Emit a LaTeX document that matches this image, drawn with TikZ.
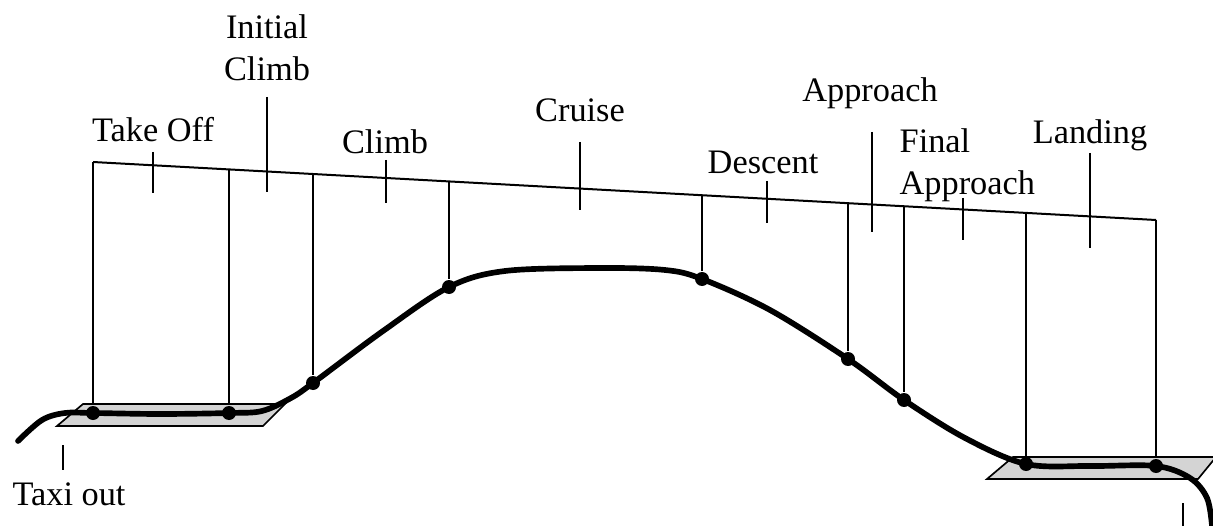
\documentclass[tikz,border=0pt]{standalone}
\usepackage{fontspec}
\setmainfont{Liberation Serif}
\usetikzlibrary{positioning}

\begin{document}
\begin{tikzpicture}[
    x=0.3pt, y=-0.3pt,
    phase/.style={
      font=\fontsize{10.3}{12.6}\selectfont,
      inner sep=0pt,
      align=center
    },
    guide/.style={line width=0.6pt},
    runway/.style={draw, line width=0.5pt, fill=black!17},
    flight/.style={line width=1.7pt, line cap=round},
    stop/.style={circle, fill, inner sep=0pt, minimum size=4.2pt}
  ]
    \useasboundingbox (0,0) rectangle (1213,526);

    % runways
    \draw[runway] (57,426) -- (83,404) -- (285,404) -- (263,426) -- cycle;
    \draw[runway] (987,479) -- (1013,457) -- (1216,457) -- (1198,479) -- cycle;

    % phase points on the trajectory
    \node[stop] (p1) at (93,413) {};
    \node[stop] (p2) at (229,413) {};
    \node[stop] (p3) at (313,383) {};
    \node[stop] (p4) at (449,287) {};
    \node[stop] (p5) at (702,279) {};
    \node[stop] (p6) at (848,359) {};
    \node[stop] (p7) at (904,400) {};
    \node[stop] (p8) at (1026,464) {};
    \node[stop] (p9) at (1156,466) {};

    % matching points on the time line
    \coordinate (t1) at (93,162);
    \coordinate (t2) at (229,169);
    \coordinate (t3) at (313,174);
    \coordinate (t4) at (449,181);
    \coordinate (t5) at (702,195);
    \coordinate (t6) at (848,203);
    \coordinate (t7) at (904,206);
    \coordinate (t8) at (1026,213);
    \coordinate (t9) at (1156,220);

    \draw[guide] (t1) -- (t9);
    \draw[guide] (t1) -- (p1);
    \draw[guide] (t2) -- (p2);
    \draw[guide] (t3) -- (p3);
    \draw[guide] (t4) -- (p4);
    \draw[guide] (t5) -- (p5);
    \draw[guide] (t6) -- (p6);
    \draw[guide] (t7) -- (p7);
    \draw[guide] (t8) -- (p8);
    \draw[guide] (t9) -- (p9);

    % flight path
    \draw[flight] plot[smooth, tension=0.55] coordinates {
      (18,441) (42,420) (65,413) (p1) (160,414) (p2) (262,411) (291,398)
      (p3) (383,331) (p4) (505,271) (600,268) (665,270) (p5)
      (770,310) (p6) (p7) (965,438) (p8) (1090,466) (p9)
      (1190,478) (1207,498) (1212,526)};

    % phase labels
    \node[phase] (takeoff) at (153,130) {Take Off};
    \node[phase] (initclimb) at (267,48) {Initial\\Climb};
    \node[phase] (climb) at (385,142) {Climb};
    \node[phase] (cruise) at (580,110) {Cruise};
    \node[phase] (descent) at (763,162) {Descent};
    \node[phase] (approach) at (870,93) {Approach};
    \node[phase, align=left, anchor=west] (finalapp) at (899,165) {Final\\Approach};
    \node[phase] (landing) at (1090,135) {Landing};
    \node[phase] (taxiout) at (69,494) {Taxi out};

    % phase ticks
    \draw[guide] (153,152) -- (153,193);
    \draw[guide] (267,97) -- (267,192);
    \draw[guide] (386,160) -- (386,203);
    \draw[guide] (580,142) -- (580,210);
    \draw[guide] (767,181) -- (767,223);
    \draw[guide] (872,132) -- (872,232);
    \draw[guide] (963,198) -- (963,240);
    \draw[guide] (1090,153) -- (1090,248);
    \draw[guide] (63,445) -- (63,470);
    \draw[guide] (1183,503) -- (1183,526);
  \end{tikzpicture}
\end{document}
